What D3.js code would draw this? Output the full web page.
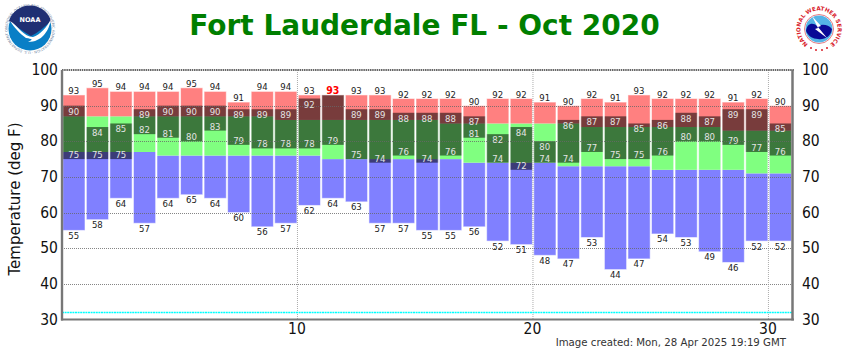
<!DOCTYPE html>
<html><head><meta charset="utf-8">
<script src="https://cdn.jsdelivr.net/npm/d3@7"></script>
<style>html,body{margin:0;padding:0;background:#fff}svg{display:block}text{font-family:"DejaVu Sans",sans-serif}text.cond{font-family:"DejaVu Sans Condensed","DejaVu Sans",sans-serif;font-stretch:condensed}</style>
</head><body><svg id="c" width="850" height="350"></svg>
<script>
const days = d3.range(1, 32);
const recHigh = [93,95,94,94,94,95,94,91,94,94,93,93,93,93,92,92,92,90,92,92,91,90,92,91,93,92,92,92,91,92,90];
const recLow = [55,58,64,57,64,65,64,60,56,57,62,64,63,57,57,55,55,56,52,51,48,47,53,44,47,54,53,49,46,52,52];
const normHigh = [87,87,87,87,87,87,87,87,87,86,86,86,86,86,86,86,85,85,85,85,85,85,84,84,84,84,84,84,83,83,83];
const normLow = [77,77,77,77,76,76,76,76,76,76,76,75,75,75,75,75,75,74,74,74,74,73,73,73,73,72,72,72,72,71,71];
const obsHigh = [90,84,85,89,90,90,90,89,89,89,92,93,89,89,88,88,88,87,82,84,80,86,87,87,85,86,88,87,89,89,85];
const obsLow = [75,75,75,82,81,80,83,79,78,78,78,79,75,74,76,74,76,81,74,72,74,74,77,75,75,76,80,80,79,77,76];
const yTicks = [30,40,50,60,70,80,90,100];
const xTicks = [10,20,30];
const freezing = 32;
const title = "Fort Lauderdale FL - Oct 2020";
const yLabel = "Temperature (deg F)";
const stamp = "Image created: Mon, 28 Apr 2025 19:19 GMT";
const recordDays = [12];

const svg = d3.select("#c");
const x = d3.scaleLinear().domain([0,31]).range([62,792]);
const y = d3.scaleLinear().domain([30,100]).range([319.5,70]);
const rows = days.map((d,i)=>({d,rh:recHigh[i],rl:recLow[i],nh:normHigh[i],nl:normLow[i],oh:obsHigh[i],ol:obsLow[i]}));

svg.append("text").attr("x",424.5).attr("y",35).attr("text-anchor","middle")
  .attr("font-size",28).attr("font-weight","bold").attr("fill","#007f00").text(title);

const barW = 22.2;
const g = svg.append("g");
const day = g.selectAll("g").data(rows).join("g");
function seg(lo,hi,fill,op){
  day.append("rect").attr("x",r=>x(r.d-1)+0.8).attr("width",barW)
    .attr("y",r=>y(hi(r))).attr("height",r=>Math.max(0,y(lo(r))-y(hi(r))))
    .attr("fill",fill).attr("fill-opacity",op);
}
seg(r=>r.rl,r=>r.nl,"#8080ff",1);
seg(r=>r.nl,r=>r.nh,"#80ff80",1);
seg(r=>r.nh,r=>r.rh,"#ff8080",1);
seg(r=>r.ol,r=>r.oh,"#000",0.53);
day.append("rect").attr("x",r=>x(r.d-1)+0.8).attr("width",barW)
  .attr("y",r=>y(r.rh)).attr("height",r=>y(r.rl)-y(r.rh))
  .attr("fill","none").attr("stroke","#fff").attr("stroke-opacity",0.55).attr("stroke-width",1);

// grid
const grid = svg.append("g");
yTicks.slice(1,-1).forEach(t=>grid.append("line").attr("x1",x(0)).attr("x2",x(31)).attr("y1",Math.round(y(t))+.5).attr("y2",Math.round(y(t))+.5)
  .attr("stroke","#666").attr("stroke-opacity",0.8).attr("stroke-width",1).attr("stroke-dasharray","1,1"));
xTicks.forEach(t=>grid.append("line").attr("x1",x(t)).attr("x2",x(t)).attr("y1",y(100)).attr("y2",y(30))
  .attr("stroke","#999").attr("stroke-opacity",0.8).attr("stroke-width",1).attr("stroke-dasharray","1,1"));
grid.append("line").attr("x1",x(0)).attr("x2",x(31)).attr("y1",Math.round(y(freezing))+.5).attr("y2",Math.round(y(freezing))+.5)
  .attr("stroke","#00ffff").attr("stroke-width",1.5).attr("stroke-dasharray","2,0.6");
grid.append("line").attr("x1",x(0)).attr("x2",x(31)+2).attr("y1",y(100)).attr("y2",y(100))
  .attr("stroke","#666").attr("stroke-width",2).attr("stroke-dasharray","1.5,0.7");

// labels
const lab = (sel,cls,fn,yf,col,size,w)=>sel.append("text").attr("class","cond "+cls).attr("text-anchor","middle")
  .attr("x",r=>x(r.d-0.5)).attr("y",yf).attr("dominant-baseline","central")
  .attr("font-size",size).attr("font-weight",w||"normal").attr("fill",col).text(fn);
lab(day.filter(r=>!recordDays.includes(r.d)),"rh",r=>r.rh,r=>y(r.rh)-4.5,"#222",9.5);
lab(day.filter(r=>recordDays.includes(r.d)),"rh",r=>r.rh,r=>y(r.rh)-5,"#ff0000",10.5,"bold");
lab(day,"rl",r=>r.rl,r=>y(r.rl)+5,"#222",9.5);
lab(day.filter(r=>!recordDays.includes(r.d)),"oh",r=>r.oh,r=>y(r.oh)+5.5,"#e4e4e4",9.5);
lab(day,"ol",r=>r.ol,r=>y(r.ol)-4.5,"#e4e4e4",9.5);

// frame and axes
const fr = svg.append("g").attr("stroke","#777").attr("fill","none");
fr.append("line").attr("x1",x(0)).attr("x2",x(0)).attr("y1",y(100)).attr("y2",y(30)+1).attr("stroke-width",2.4);
fr.append("line").attr("x1",x(31)+.5).attr("x2",x(31)+.5).attr("y1",y(100)).attr("y2",y(30)+1).attr("stroke-width",2.5);
fr.append("line").attr("x1",x(0)-1).attr("x2",x(31)+2).attr("y1",y(30)).attr("y2",y(30)).attr("stroke-width",2);

const tk = svg.append("g").attr("font-size",15.5).attr("fill","#111");
yTicks.forEach(t=>{
  tk.append("text").attr("class","cond").attr("x",58).attr("y",y(t)).attr("text-anchor","end").attr("dominant-baseline","central").text(t);
  tk.append("text").attr("class","cond").attr("x",802).attr("y",y(t)).attr("text-anchor","start").attr("dominant-baseline","central").text(t);
});
xTicks.forEach(t=>tk.append("text").attr("class","cond").attr("x",x(t)-0.5).attr("y",328.5).attr("text-anchor","middle").attr("dominant-baseline","central").text(t));

svg.append("text").attr("transform","translate(20,199) rotate(-90)").attr("text-anchor","middle")
  .attr("font-size",15).attr("fill","#111").text(yLabel);
svg.append("text").attr("x",786).attr("y",346).attr("text-anchor","end").attr("font-size",10.2).attr("fill","#333").text(stamp);

// NOAA emblem
const noaa = svg.append("g").attr("transform","translate(30,29)");
noaa.append("path").attr("id","nr").attr("d","M-22.5,0A22.5,22.5 0 1 1 22.5,0A22.5,22.5 0 1 1 -22.5,0").attr("fill","none");
noaa.append("text").attr("font-size",3.5).attr("fill","#6d7fa0").append("textPath").attr("href","#nr")
  .text("NATIONAL OCEANIC AND ATMOSPHERIC ADMINISTRATION · U.S. DEPARTMENT OF COMMERCE ·");
noaa.append("circle").attr("r",21.5).attr("fill","#0a7fc6");
noaa.append("path").attr("d","M-21,-8A22,22 0 0 1 21,-8C13,-1 9,3 1,7C-6,3 -14,-3 -21,-8Z").attr("fill","#1f2f73");
noaa.append("path").attr("d","M-20,-8C-12,-3 -6,8 3,8C10,6 17,-2 21,-10C19,2 12,13 -2,13C4,10 2,10 -4,9C-10,5 -16,-2 -20,-8Z").attr("fill","#fff");
noaa.append("text").attr("y",-9.5).attr("text-anchor","middle").attr("dominant-baseline","central").attr("font-size",6.5).attr("font-weight","bold").attr("fill","#fff").text("NOAA");

// NWS emblem
const nws = svg.append("g").attr("transform","translate(819,29)");
nws.append("path").attr("id","wr").attr("d","M-11,15A18.6,18.6 0 1 1 11,15").attr("fill","none");
nws.append("text").attr("font-size",5.6).attr("font-weight","bold").attr("fill","#d8202a").append("textPath").attr("href","#wr")
  .attr("startOffset","50%").attr("text-anchor","middle").text("NATIONAL WEATHER SERVICE");
nws.append("circle").attr("r",14.5).attr("fill","#fff").attr("stroke","#d8202a").attr("stroke-width",.6);
nws.append("circle").attr("r",13.5).attr("fill","#55b4e6");
nws.append("path").attr("d","M-13,2C-12,-6 -6,-7 -2,-3C3,-5 9,-5 13,0C12,8 5,11 -1,10C-6,10 -11,7 -13,2Z").attr("fill","#0a0a96");
nws.append("path").attr("d","M-7,-13L2,-3L-1,-2L8,9L-4,0L-1,-1Z").attr("fill","#fff");
[-8,-3,3,8].forEach((o,i)=>nws.append("circle").attr("cx",o).attr("cy",[19,21,21,19][i]).attr("r",1).attr("fill","#d8202a"));
</script></body></html>
